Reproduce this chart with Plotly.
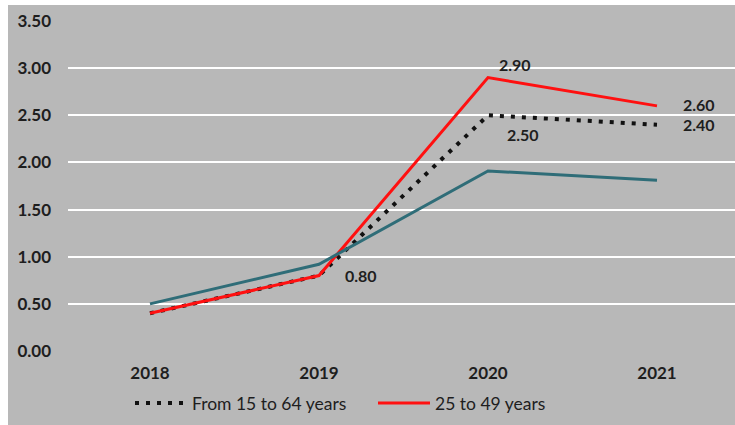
import plotly.graph_objects as go

# Years on the category axis
years = ["2018", "2019", "2020", "2021"]

# Series values
ages_15_64 = [0.40, 0.80, 2.50, 2.40]
ages_25_49 = [0.40, 0.80, 2.90, 2.60]
other_group = [0.50, 0.92, 1.91, 1.81]

# Y axis ticks
y_ticks = [0.0, 0.5, 1.0, 1.5, 2.0, 2.5, 3.0, 3.5]
y_tick_text = ["0.00", "0.50", "1.00", "1.50", "2.00", "2.50", "3.00", "3.50"]

BG = "#b8b8b8"
FONT = "Lato"
TXT = "#1e1e1e"

x_idx = list(range(len(years)))

fig = go.Figure()

fig.add_trace(go.Scatter(
    x=x_idx, y=ages_15_64, mode="lines", name="From 15 to 64 years",
    line=dict(color="#111111", width=4, dash="4px,7px"),
))
fig.add_trace(go.Scatter(
    x=x_idx, y=ages_25_49, mode="lines", name="25 to 49 years",
    line=dict(color="#ff1010", width=3),
))
fig.add_trace(go.Scatter(
    x=x_idx, y=other_group, mode="lines", showlegend=False,
    line=dict(color="#2f6d78", width=3),
))

# Value labels
labels = [
    (1, ages_25_49[1], "0.80", 42, 0),
    (2, ages_25_49[2], "2.90", 27, -13),
    (2, ages_15_64[2], "2.50", 35, 19),
    (3, ages_25_49[3], "2.60", 42, -1),
    (3, ages_15_64[3], "2.40", 42, 0),
]
for xi, yv, txt, dx, dy in labels:
    fig.add_annotation(
        x=xi, y=yv, text=txt, showarrow=False, xshift=dx, yshift=-dy,
        font=dict(family=FONT, size=16, color=TXT, weight="bold"),
    )

# White strips along the top and left edges of the page
plot_l, plot_r, plot_t, plot_b = 68, 0, 21, 74
plot_w = 735 - plot_l - plot_r
plot_h = 425 - plot_t - plot_b
def px_x(p):
    return (p - plot_l) / plot_w
def px_y(p):
    return (425 - plot_b - p) / plot_h

fig.add_shape(type="rect", xref="paper", yref="paper",
              x0=px_x(-2), x1=px_x(8), y0=px_y(430), y1=px_y(-2),
              fillcolor="white", line_width=0, layer="above")
fig.add_shape(type="rect", xref="paper", yref="paper",
              x0=px_x(-2), x1=px_x(740), y0=px_y(5), y1=px_y(-2),
              fillcolor="white", line_width=0, layer="above")

spacing = 169
r0 = -(150 - plot_l) / spacing
r1 = r0 + plot_w / spacing

fig.update_layout(
    width=735, height=425,
    margin=dict(l=plot_l, r=plot_r, t=plot_t, b=plot_b, autoexpand=False),
    paper_bgcolor=BG, plot_bgcolor=BG,
    font=dict(family=FONT, color=TXT),
    xaxis=dict(
        range=[r0, r1], tickmode="array", tickvals=x_idx, ticktext=years,
        showgrid=False, zeroline=False, showline=False,
        tickfont=dict(family=FONT, size=17, color=TXT, weight="bold"),
        ticklabelstandoff=10,
    ),
    yaxis=dict(
        range=[0, 3.5], tickmode="array", tickvals=y_ticks, ticktext=y_tick_text,
        showgrid=True, gridcolor="white", gridwidth=2, zeroline=False,
        showline=False,
        tickfont=dict(family=FONT, size=17, color=TXT, weight="bold"),
        ticklabelstandoff=16,
    ),
    legend=dict(
        orientation="h", x=px_x(130), xanchor="left",
        y=px_y(403), yanchor="middle", bgcolor="rgba(0,0,0,0)",
        font=dict(family=FONT, size=17.5, color=TXT),
        itemwidth=52, entrywidth=176, entrywidthmode="pixels",
    ),
)

fig.write_html("out.html")
